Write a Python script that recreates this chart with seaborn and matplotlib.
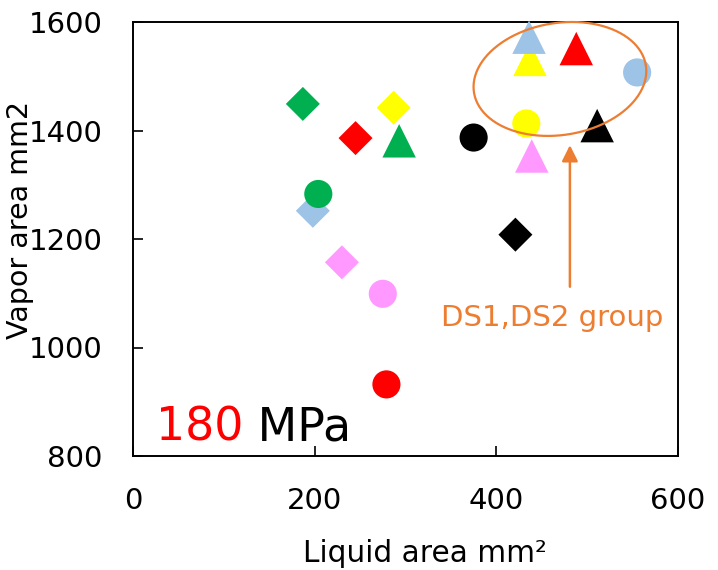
import numpy as np
import pandas as pd
import matplotlib
matplotlib.use("Agg")
import matplotlib.pyplot as plt
import seaborn as sns

sns.set_theme(style="white")
plt.rcParams['font.family'] = ['DejaVu Sans']
plt.rcParams['text.color'] = 'black'
plt.rcParams['axes.labelcolor'] = 'black'

# ---- data ----
series = ["red", "green", "yellow", "lightblue", "pink", "black"]
palette = {"red": "#FF0000", "green": "#00B050", "yellow": "#FFFF00",
           "lightblue": "#9DC3E6", "pink": "#FF99FF", "black": "#000000"}

circle_x = [279, 204, 433, 555, 275, 375]
circle_y = [932, 1283, 1413, 1507, 1099, 1387]
diamond_x = [245, 187, 287, 198, 230, 421]
diamond_y = [1386, 1449, 1442, 1252, 1157, 1208]
triangle_x = [488, 293, 437, 436, 439, 511]
triangle_y = [1551, 1381, 1531, 1572, 1353, 1409]

x_ticks = [0, 200, 400, 600]
y_ticks = [800, 1000, 1200, 1400, 1600]

orange = "#ED7D31"

fig = plt.figure(figsize=(7.18, 5.70), dpi=100)
ax = fig.add_axes([133/718, 1-456/570, 545/718, 434/570])

df_d = pd.DataFrame({"x": diamond_x, "y": diamond_y, "s": series})
df_c = pd.DataFrame({"x": circle_x, "y": circle_y, "s": series})
df_t = pd.DataFrame({"x": triangle_x, "y": triangle_y, "s": series})

sns.scatterplot(data=df_d, x="x", y="y", hue="s", palette=palette, marker="D",
                s=300, linewidth=0, legend=False, ax=ax, zorder=3)
sns.scatterplot(data=df_c, x="x", y="y", hue="s", palette=palette, marker="o",
                s=410, linewidth=0, legend=False, ax=ax, zorder=4)
sns.scatterplot(data=df_t, x="x", y="y", hue="s", palette=palette, marker="^",
                s=580, linewidth=0, legend=False, ax=ax, zorder=3, clip_on=False)

ax.set_xlim(0, 600)
ax.set_ylim(800, 1600)
ax.set_xticks(x_ticks)
ax.set_yticks(y_ticks)
ax.tick_params(direction="in", length=7, width=1.2, labelsize=21, pad=22,
               colors="black", bottom=True, left=True)
for sp in ax.spines.values():
    sp.set_color("black")
    sp.set_linewidth(1.4)

ax.set_xlabel("")
ax.set_ylabel("")
fig.text(425/718, 1-553/570, "Liquid area mm²", fontsize=21.3, ha="center", va="center")
fig.text(20/718, 1-220/570, "Vapor area mm2", fontsize=20.5, ha="center", va="center",
         rotation=90)

# ellipse annotation (pixel-shaped, converted to data units)
pxx = 545/600
pxy = 434/800
t = np.linspace(0, 2*np.pi, 200)
a, b, ang = 87, 56, np.deg2rad(9)
ex = a*np.cos(t)*np.cos(ang) - b*np.sin(t)*np.sin(ang)
ey = a*np.cos(t)*np.sin(ang) + b*np.sin(t)*np.cos(ang)
ax.plot(470 + ex/pxx, 1495 + ey/pxy, color=orange, lw=1.6, zorder=6, clip_on=False)

ax.annotate("", xy=(481, 1373), xytext=(481, 1112),
            arrowprops=dict(arrowstyle="-|>", color=orange, lw=1.8,
                            mutation_scale=24, shrinkA=0, shrinkB=0), zorder=6)
ax.text(462, 1054, "DS1,DS2 group", color=orange, fontsize=21, ha="center", va="center")

t1 = ax.text(25, 828, "180", color="red", fontsize=33, ha="left", va="baseline")
fig.canvas.draw()
bb = t1.get_window_extent()
inv = ax.transData.inverted()
x_end = inv.transform((bb.x1, bb.y0))[0]
t2 = ax.text(x_end, 828, " MPa", color="black", fontsize=33, ha="left", va="baseline")

fig.savefig("out.png", dpi=100)
